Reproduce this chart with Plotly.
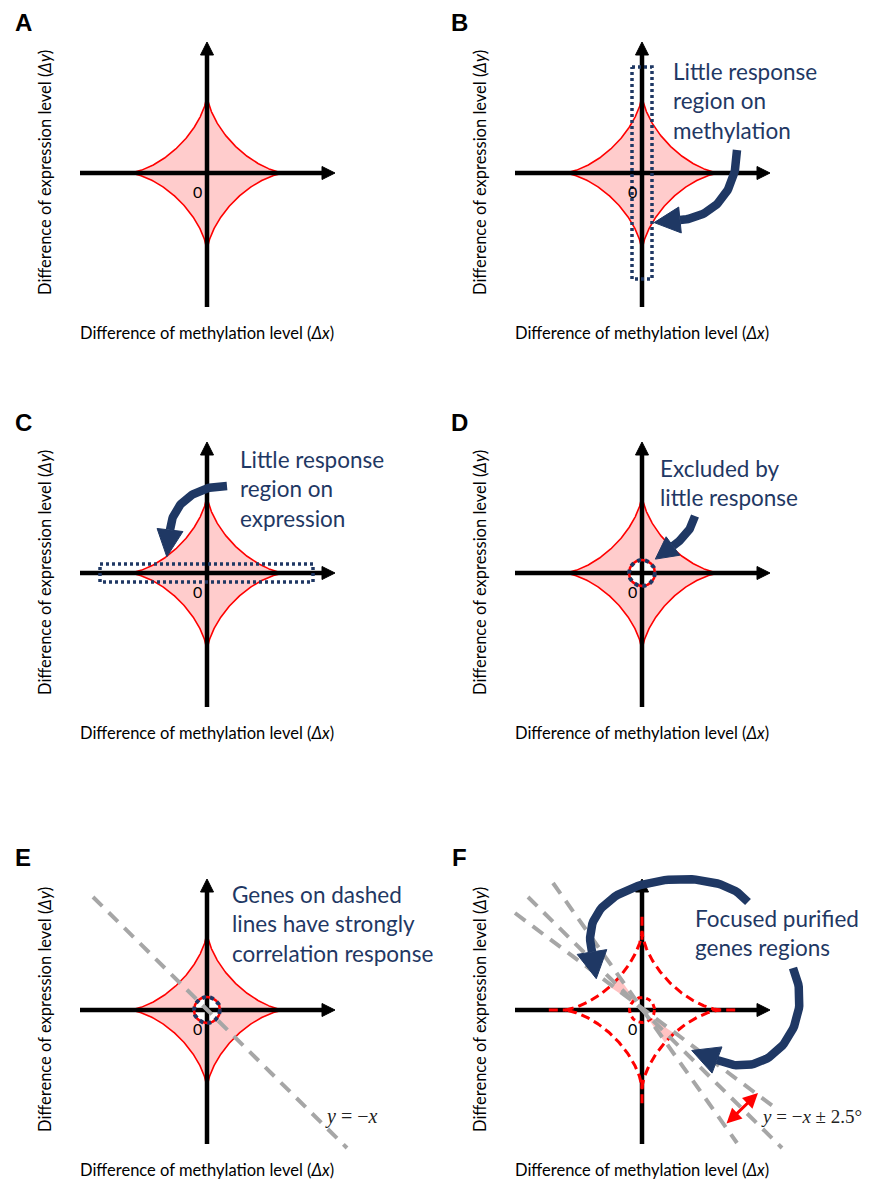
import numpy as np
import plotly.graph_objects as go

# ---------------- figure / scale ----------------
FIG_W, FIG_H = 870, 1180
PX = 78.0          # pixels per unit (astroid radius = 1 unit)
HALF = 170.0       # half size (px) of each panel's plotting square

# ---------------- panel data ----------------
panel_ids = ["A", "B", "C", "D", "E", "F"]
panel_cx = [207, 642, 207, 642, 207, 642]       # px, origin of each panel
panel_cy = [173, 173, 573, 573, 1010, 1010]
label_xy = [(23, 23), (459, 23), (23, 422), (459, 422), (23, 857), (459, 857)]

astroid_radius = 1.0
axis_x_extent = (-127, 128)     # px relative to origin
axis_y_extent = (134, -131)     # px relative (down positive): bottom, top tip
axis_head = (13, 6.5)           # length, half width (px)

x_title = "Difference of methylation level (<i>Δx</i>)"
y_title = "Difference of expression level (<i>Δy</i>)"
zero_label = "0"

notes = {
    "B": "Little response<br>region on<br>methylation",
    "C": "Little response<br>region on<br>expression",
    "D": "Excluded by<br>little response",
    "E": "Genes on dashed<br>lines have strongly<br>correlation response",
    "F": "Focused purified<br>genes regions",
}
note_pos = {"B": (29, -72.5), "C": (31, -84), "D": (16, -90), "E": (23, -86), "F": (51, -77)}

# dotted boxes (px rel): x0, x1, y0, y1
box_B = (-10, 10, -106, 106)
box_C = (-107, 106, -9, 9)
circle_r_px = 13.0

# curved navy arrows: bezier control points (px rel, y down), head length, half width
curved_arrows = {
    "B": [[(95, -23), (95, 20), (70, 45), (38, 47)], 26, 13],
    "C": [[(20, -87), (-10, -88), (-35, -70), (-37, -43)], 27, 13],
    "D": [[(53, -57), (50, -44), (42, -35), (31, -27)], 22, 11.5],
    "F1": [[(106, -108), (75, -150), (-70, -135), (-50, -58)], 27, 15],
    "F2": [[(151, -42), (175, 10), (130, 75), (75, 50)], 27, 14],
}

# grey dashed lines (px rel endpoints)
grey_lines_E = [((-114, -113), (140, 138))]
grey_lines_F = [((-114, -113), (140, 138)), ((-89, -127), (95, 133)), ((-127, -97), (136, 100))]
wedge_deg_F = [(125, 144), (305, 324)]
red_arrow_F = ((83, 115), (116, 83))

eq_E = "<i>y</i> = −<i>x</i>"
eq_F = "<i>y</i> = −<i>x</i> ± 2.5°"
eq_pos = {"E": (116, 106), "F": (117, 106)}
eq_size = {"E": 20, "F": 19}

NAVY = "#1F3864"
RED = "#FF0000"
PINK = "#FFCCCC"
GREY = "#A6A6A6"
TEXT_FONT = "Lato, Open Sans, sans-serif"

fig = go.Figure()
annotations = []


def axn(i):
    return ("x" if i == 0 else f"x{i+1}", "y" if i == 0 else f"y{i+1}")


def paper(i, dx, dy):
    return (panel_cx[i] + dx) / FIG_W, 1 - (panel_cy[i] + dy) / FIG_H


def add(i, xs, ys, **kw):
    xa, ya = axn(i)
    fig.add_trace(go.Scatter(x=list(xs), y=list(ys), xaxis=xa, yaxis=ya, mode="lines",
                             hoverinfo="skip", showlegend=False, **kw))


def add_px(i, pts, **kw):
    xs = [p[0] / PX for p in pts]
    ys = [-p[1] / PX for p in pts]
    add(i, xs, ys, **kw)


def bezier(P, n=60):
    t = np.linspace(0, 1, n)[:, None]
    P = np.array(P, dtype=float)
    return ((1 - t) ** 3) * P[0] + 3 * ((1 - t) ** 2) * t * P[1] + 3 * (1 - t) * t ** 2 * P[2] + t ** 3 * P[3]


def curved_arrow(i, spec, color=NAVY, width=8.5):
    P, L, hw = spec
    curve = bezier(P)
    add_px(i, curve, line=dict(color=color, width=width))
    end = np.array(P[3], float)
    dirv = end - np.array(curve[-4], float)
    dirv = dirv / np.linalg.norm(dirv)
    nrm = np.array([-dirv[1], dirv[0]])
    tri = [end + nrm * hw, end - nrm * hw, end + dirv * L, end + nrm * hw]
    add_px(i, tri, fill="toself", fillcolor=color, line=dict(color=color, width=1))


th = np.linspace(0, 2 * np.pi, 721)
ast_x = astroid_radius * np.cos(th) ** 3
ast_y = astroid_radius * np.sin(th) ** 3


def circle(r_px, n=120):
    a = np.linspace(0, 2 * np.pi, n)
    return [(r_px * np.cos(v), r_px * np.sin(v)) for v in a]


def draw_axes(i):
    x0, x1 = axis_x_extent
    L, hw = axis_head
    add_px(i, [(x0, 0), (x1 - L + 1, 0)], line=dict(color="black", width=4.5))
    add_px(i, [(x1 - L, -hw), (x1, 0), (x1 - L, hw), (x1 - L, -hw)], fill="toself",
           fillcolor="black", line=dict(color="black", width=1))
    yb, yt = axis_y_extent
    add_px(i, [(0, yb), (0, yt + L - 1)], line=dict(color="black", width=4.5))
    add_px(i, [(-hw, yt + L), (0, yt), (hw, yt + L), (-hw, yt + L)], fill="toself",
           fillcolor="black", line=dict(color="black", width=1))


def dotted_circle(i, stage="fill"):
    pts = circle(circle_r_px)
    if stage == "fill":
        add_px(i, pts, fill="toself", fillcolor="white", line=dict(color="white", width=0.5))
    else:
        add_px(i, pts, line=dict(color=RED, width=2.5))
        add_px(i, pts, line=dict(color=NAVY, width=4, dash="4px,4px"))


for i, pid in enumerate(panel_ids):
    xa, ya = axn(i)
    cx, cy = panel_cx[i], panel_cy[i]
    lay_x = "xaxis" if i == 0 else f"xaxis{i+1}"
    lay_y = "yaxis" if i == 0 else f"yaxis{i+1}"
    fig.layout[lay_x] = dict(domain=[(cx - HALF) / FIG_W, (cx + HALF) / FIG_W],
                             range=[-HALF / PX, HALF / PX], visible=False, anchor=ya, fixedrange=True)
    fig.layout[lay_y] = dict(domain=[1 - (cy + HALF) / FIG_H, 1 - (cy - HALF) / FIG_H],
                             range=[-HALF / PX, HALF / PX], visible=False, anchor=xa, fixedrange=True)

    if pid != "F":
        add(i, ast_x, ast_y, fill="toself", fillcolor=PINK, line=dict(color=RED, width=1.6))
    else:
        for a0, a1 in wedge_deg_F:
            aa = np.radians(np.linspace(a0, a1, 40))
            r_out = (np.abs(np.cos(aa)) ** (2 / 3) + np.abs(np.sin(aa)) ** (2 / 3)) ** (-1.5)
            r_in = circle_r_px / PX
            wx = list(r_out * np.cos(aa)) + list(r_in * np.cos(aa[::-1]))
            wy = list(r_out * np.sin(aa)) + list(r_in * np.sin(aa[::-1]))
            add(i, wx + [wx[0]], wy + [wy[0]], fill="toself", fillcolor="rgba(255,80,80,0.35)",
                line=dict(width=0, color="rgba(0,0,0,0)"))

    if pid in ("D", "E"):
        dotted_circle(i, stage="fill")

    draw_axes(i)

    if pid == "F":
        add(i, ast_x, ast_y, line=dict(color=RED, width=3, dash="9px,5px"))
        for sgn in (1, -1):
            add(i, [sgn * 0.9, sgn * 1.22], [0, 0], line=dict(color=RED, width=3, dash="9px,5px"))
            add(i, [0, 0], [sgn * 0.9, sgn * 1.22], line=dict(color=RED, width=3, dash="9px,5px"))
        add_px(i, circle(12.5), line=dict(color=RED, width=3, dash="5px,4px"))

    if pid == "B":
        x0, x1, y0, y1 = box_B
        add_px(i, [(x0, y0), (x1, y0), (x1, y1), (x0, y1), (x0, y0)],
               line=dict(color=NAVY, width=3.5, dash="3px,3px"))
    if pid == "C":
        x0, x1, y0, y1 = box_C
        add_px(i, [(x0, y0), (x1, y0), (x1, y1), (x0, y1), (x0, y0)],
               line=dict(color=NAVY, width=3.5, dash="3px,3px"))
    if pid in ("D", "E"):
        dotted_circle(i, stage="line")

    if pid == "E":
        for p0, p1 in grey_lines_E:
            add_px(i, [p0, p1], line=dict(color=GREY, width=4, dash="13px,9px"))
    if pid == "F":
        for p0, p1 in grey_lines_F:
            add_px(i, [p0, p1], line=dict(color=GREY, width=4, dash="13px,9px"))

    for key, spec in curved_arrows.items():
        if key.startswith(pid):
            curved_arrow(i, spec)

    # ---- texts ----
    lx, ly = label_xy[i]
    annotations.append(dict(x=lx / FIG_W, y=1 - ly / FIG_H, xref="paper", yref="paper",
                            text=f"<b>{pid}</b>", showarrow=False, xanchor="center", yanchor="middle",
                            font=dict(family="Liberation Sans, Arial", size=24, color="black")))
    px_, py_ = paper(i, 0, 160)
    annotations.append(dict(x=px_, y=py_, xref="paper", yref="paper", text=x_title, showarrow=False,
                            xanchor="center", yanchor="middle", borderpad=0,
                            font=dict(family=TEXT_FONT, size=16.5, color="black")))
    px_, py_ = paper(i, -162, 0)
    annotations.append(dict(x=px_, y=py_, xref="paper", yref="paper", text=y_title, showarrow=False,
                            xanchor="center", yanchor="middle", textangle=-90,
                            font=dict(family=TEXT_FONT, size=16.5, color="black")))
    px_, py_ = paper(i, -10, 18)
    annotations.append(dict(x=px_, y=py_, xref="paper", yref="paper", text=zero_label, showarrow=False,
                            xanchor="center", yanchor="middle",
                            font=dict(family=TEXT_FONT, size=16, color="black")))
    if pid in notes:
        nx, ny = note_pos[pid]
        px_, py_ = paper(i, nx, ny)
        annotations.append(dict(x=px_, y=py_, xref="paper", yref="paper", text=notes[pid],
                                showarrow=False, xanchor="left", yanchor="middle", align="left",
                                font=dict(family=TEXT_FONT, size=22.5, color=NAVY)))
    if pid in eq_pos:
        ex, ey = eq_pos[pid]
        px_, py_ = paper(i, ex, ey)
        annotations.append(dict(x=px_, y=py_, xref="paper", yref="paper",
                                text=eq_E if pid == "E" else eq_F, showarrow=False,
                                xanchor="left", yanchor="middle",
                                font=dict(family="Liberation Serif, serif", size=eq_size[pid],
                                          color="#222222")))
    if pid == "F":
        (sx, sy), (ex_, ey_) = red_arrow_F
        annotations.append(dict(x=ex_ / PX, y=-ey_ / PX, ax=sx / PX, ay=-sy / PX,
                                xref=xa, yref=ya, axref=xa, ayref=ya, text="", showarrow=True,
                                arrowhead=2, startarrowhead=2, arrowside="end+start",
                                arrowsize=1, startarrowsize=1, arrowwidth=3, arrowcolor=RED))

fig.update_layout(width=FIG_W, height=FIG_H, margin=dict(l=0, r=0, t=0, b=0),
                  paper_bgcolor="white", plot_bgcolor="white", showlegend=False,
                  annotations=annotations)

fig.write_html("out.html", config={"displayModeBar": False},
               post_script="document.body.style.margin='0px';document.body.style.overflow='hidden';")
